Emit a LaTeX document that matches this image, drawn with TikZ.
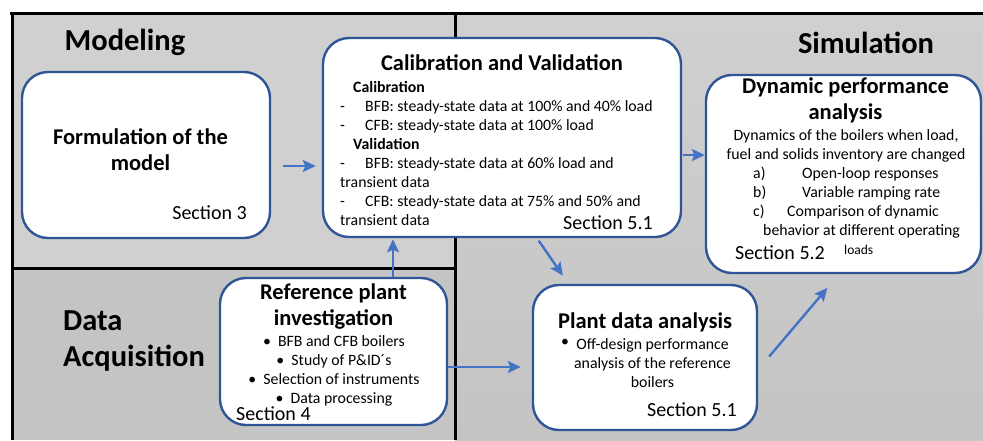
\documentclass[tikz,border=0pt]{standalone}
\usepackage{fontspec}
\setmainfont{Carlito}
\usetikzlibrary{arrows.meta, positioning}

\definecolor{boxblue}{RGB}{47,85,151}
\definecolor{arrowblue}{RGB}{68,114,196}
\definecolor{lightpanel}{RGB}{208,208,208}
\definecolor{darkpanel}{RGB}{196,196,196}

\newcommand{\dashline}[1]{\makebox[25pt][l]{-}#1}

\begin{document}
\begin{tikzpicture}[
        x = 1pt, y = -1pt, % pixel like coordinates
        > = {Stealth[length = 13pt, width = 12pt, inset = 2.5pt]}, % arrow head style
        frame/.style = {draw = black, line width = 3pt},
        stage/.style = {draw = boxblue, line width = 2.4pt, fill = white,
                        rounded corners = 26pt},
        link/.style = {->, draw = arrowblue, line width = 2.4pt},
        heading/.style = {font = \fontsize{30.5}{36}\selectfont\bfseries,
                          align = left, inner sep = 0pt},
        title/.style = {font = \fontsize{22.5}{26}\selectfont\bfseries,
                        align = center, inner sep = 0pt},
        body/.style = {font = \fontsize{15.8}{19}\selectfont, inner sep = 0pt},
        sect/.style = {font = \fontsize{20}{22}\selectfont, inner sep = 0pt}
    ]

    \useasboundingbox (0,0) rectangle (983,440);

    % panels
    \fill[lightpanel] (12,13) rectangle (455,268);
    \fill[darkpanel] (12,268) rectangle (455,440);
    \shade[top color = lightpanel, bottom color = darkpanel] (455,13) rectangle (983,440);

    \draw[frame] (10,13) -- (983,13);
    \draw[frame] (12,13) -- (12,440);
    \draw[frame] (455,13) -- (455,440);
    \draw[frame] (12,268) -- (455,268);

    \node[heading] (modhead) at (125,42) {Modeling};
    \node[heading] (simhead) at (866,43) {Simulation};
    \node[heading, anchor = west] (acqhead) at (63,341) {Data\\Acquisition};

    % boxes
    \node[stage, minimum width = 248pt, minimum height = 166pt] (form) at (146,155) {};
    \node[stage, minimum width = 358pt, minimum height = 199pt] (calib) at (502,137.5) {};
    \node[stage, minimum width = 275pt, minimum height = 198pt] (dyn) at (843.5,174) {};
    \node[stage, minimum width = 227pt, minimum height = 147pt] (refp) at (333.5,351.5) {};
    \node[stage, minimum width = 224pt, minimum height = 145pt] (pda) at (645,357.5) {};

    % arrows
    \draw[link, shorten <= 12pt, shorten >= 6pt] ([yshift=-11pt]form.east) -- ([yshift=-28.5pt]calib.west);
    \draw[link, shorten >= 1pt] ([xshift=59.5pt]refp.north) -- ([xshift=-109pt]calib.south);
    \draw[link, shorten <= 3pt, shorten >= 10pt] ([xshift=35pt]calib.south) -- ([xshift=-76.5pt]pda.north);
    \draw[link, shorten >= 11pt] ([yshift=-15.5pt]refp.east) -- ([yshift=-9.5pt]pda.west);
    \draw[link, shorten <= 1pt] ([yshift=-17.5pt]calib.east) -- ([yshift=19pt]dyn.west);
    \draw[link, shorten <= 17pt, shorten >= 18pt] ([yshift=-12pt]pda.east) -- ([xshift=-4.5pt]dyn.south);

    % Modeling
    \node[title] (formtitle) at (140.5,150) {Formulation of the\\model};
    \node[sect, anchor = east] (formsec) at (247,213) {Section 3};

    % Calibration and Validation
    \node[title] (caltitle) at (502,63) {Calibration and Validation};
    \node[body, align = left, anchor = west] (calbody) at (340,153) {%
        \hspace*{13pt}\textbf{Calibration}\\
        \dashline{BFB: steady-state data at 100\% and 40\% load}\\
        \dashline{CFB: steady-state data at 100\% load}\\
        \hspace*{13pt}\textbf{Validation}\\
        \dashline{BFB: steady-state data at 60\% load and}\\
        transient data\\
        \dashline{CFB: steady-state data at 75\% and 50\% and}\\
        transient data};
    \node[sect, anchor = east] (calsec) at (653,223) {Section 5.1};

    % Simulation
    \node[title] (dyntitle) at (845.5,100) {Dynamic performance\\analysis};
    \node[body, align = center] (dynbody) at (846,146) {Dynamics of the boilers when load,\\fuel and solids inventory are changed};
    \node[body, align = left, anchor = west] (dynlist) at (753,210.5) {%
        \makebox[49pt][l]{a)}Open-loop responses\\
        \makebox[49pt][l]{b)}Variable ramping rate\\
        \makebox[34pt][l]{c)}Comparison of dynamic\\
        \hspace*{10pt}behavior at different operating\\
        \hspace*{91pt}{\fontsize{13.5}{19}\selectfont loads}};
    \node[sect, anchor = west] (dynsec) at (735,253) {Section 5.2};

    % Data Acquisition
    \node[title] (reftitle) at (333.5,306.5) {Reference plant\\investigation};
    \node[body, align = center] (refbody) at (334,370.5) {%
        \textbullet\ \ BFB and CFB boilers\\
        \textbullet\ \ Study of P\&ID´s\\
        \textbullet\ \ Selection of instruments\\
        \textbullet\ \ Data processing};
    \node[sect, anchor = west] (refsec) at (236,414) {Section 4};

    \node[title] (pdatitle) at (645,322) {Plant data analysis};
    \node[body] (pdabullet) at (565,343) {\textbullet};
    \node[body, align = center] (pdabody) at (652.5,363) {Off-design performance\\analysis of the reference\\boilers};
    \node[sect, anchor = east] (pdasec) at (737,410) {Section 5.1};
\end{tikzpicture}
\end{document}
